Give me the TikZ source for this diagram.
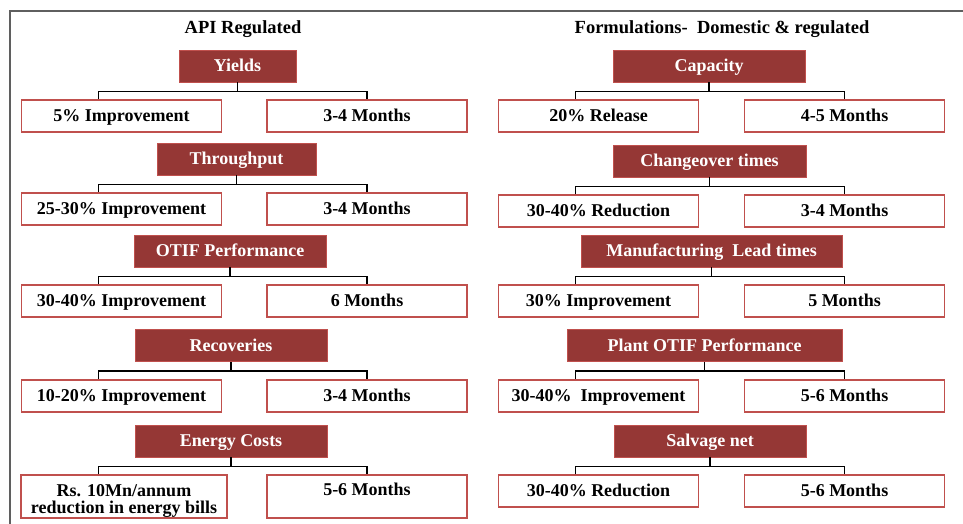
\documentclass[tikz,border=0pt]{standalone}
\usepackage{fontspec}
\setmainfont{Liberation Serif}
\usetikzlibrary{positioning}
\definecolor{headred}{RGB}{149,55,53}
\definecolor{edgered}{RGB}{192,80,77}
\definecolor{framegray}{RGB}{95,95,95}

\begin{document}
\begin{tikzpicture}[x=1pt,y=-1pt,
  goalbox/.style={rectangle,fill=headred,draw=edgered,line width=0.8pt,text=white,font=\fontsize{18}{21}\selectfont\bfseries,minimum height=32pt,inner sep=0pt,text height=12pt,text depth=1pt},
  resultbox/.style={rectangle,fill=white,draw=edgered,line width=1.6pt,font=\fontsize{18}{17}\selectfont\bfseries,minimum width=200pt,minimum height=32pt,inner sep=0pt,align=center,text height=12pt,text depth=1pt},
  colhead/.style={font=\fontsize{18.5}{22}\selectfont\bfseries,inner sep=0pt,text height=12.5pt,text depth=1pt},
  bracket/.style={draw=black,line width=1.3pt}]
  \useasboundingbox (0,0) rectangle (963,524);
  \draw[framegray,line width=1.5pt] (963,11) -- (10,11) -- (10,524);
  % column headings
  \node[colhead] (apititle) at (243,28) {API Regulated};
  \node[colhead] (formtitle) at (722,28) {Formulations-\enspace Domestic \& regulated};
  % API regulated
  \node[goalbox,minimum width=117pt] (yields) at (237.5,66) {Yields};
  \node[resultbox] (yieldsgain) at (121.5,116) {5\% Improvement};
  \node[resultbox] (yieldstime) at (367,116) {3-4 Months};
  \node[goalbox,minimum width=159pt] (thru) at (236.5,159) {Throughput};
  \node[resultbox] (thrugain) at (121.5,209) {25-30\% Improvement};
  \node[resultbox] (thrutime) at (367,209) {3-4 Months};
  \node[goalbox,minimum width=192pt] (otif) at (230,251) {OTIF Performance};
  \node[resultbox] (otifgain) at (121.5,301) {30-40\% Improvement};
  \node[resultbox] (otiftime) at (367,301) {6 Months};
  \node[goalbox,minimum width=192pt] (recov) at (231,345.5) {Recoveries};
  \node[resultbox] (recovgain) at (121.5,396) {10-20\% Improvement};
  \node[resultbox] (recovtime) at (367,396) {3-4 Months};
  \node[goalbox,minimum width=192pt] (energy) at (231,441) {Energy Costs};
  \node[resultbox,minimum width=206pt,minimum height=43pt,text height=,text depth=] (energygain) at (124,496.5) {\rule{0pt}{20pt}Rs. 10Mn/annum\\reduction in energy bills};
  \node[resultbox,minimum height=43pt,text height=12pt,text depth=14pt] (energytime) at (367,496.5) {5-6 Months};
  % formulations
  \node[goalbox,minimum width=192pt] (capacity) at (709,66) {Capacity};
  \node[resultbox] (capgain) at (598.5,116) {20\% Release};
  \node[resultbox] (captime) at (844.5,116) {4-5 Months};
  \node[goalbox,minimum width=193pt] (change) at (709.5,161) {Changeover times};
  \node[resultbox] (changegain) at (598.5,211) {30-40\% Reduction};
  \node[resultbox] (changetime) at (844.5,211) {3-4 Months};
  \node[goalbox,minimum width=261pt] (mlt) at (711.5,251) {Manufacturing\enspace Lead times};
  \node[resultbox] (mltgain) at (598.5,301) {30\% Improvement};
  \node[resultbox] (mlttime) at (844.5,301) {5 Months};
  \node[goalbox,minimum width=275pt] (potif) at (704.5,345.5) {Plant OTIF Performance};
  \node[resultbox] (potifgain) at (598.5,396) {30-40\%\enspace Improvement};
  \node[resultbox] (potiftime) at (844.5,396) {5-6 Months};
  \node[goalbox,minimum width=192pt] (salvage) at (710,441) {Salvage net};
  \node[resultbox] (salvgain) at (598.5,491) {30-40\% Reduction};
  \node[resultbox] (salvtime) at (844.5,491) {5-6 Months};
  % brackets
  \draw[bracket] (yields.south) -- ([yshift=-9pt]yields.south) ([xshift=78pt]yieldsgain.north west) |- ([yshift=-9pt]yields.south) -| (yieldstime.north);
  \draw[bracket] (thru.south) -- ([yshift=-9pt]thru.south) ([xshift=78pt]thrugain.north west) |- ([yshift=-9pt]thru.south) -| (thrutime.north);
  \draw[bracket] (otif.south) -- ([yshift=-9pt]otif.south) ([xshift=78pt]otifgain.north west) |- ([yshift=-9pt]otif.south) -| (otiftime.north);
  \draw[bracket] (recov.south) -- ([yshift=-9pt]recov.south) ([xshift=78pt]recovgain.north west) |- ([yshift=-9pt]recov.south) -| (recovtime.north);
  \draw[bracket] (energy.south) -- ([yshift=-9pt]energy.south) ([xshift=78pt]energygain.north west) |- ([yshift=-9pt]energy.south) -| (energytime.north);
  \draw[bracket] (capacity.south) -- ([yshift=-9pt]capacity.south) ([xshift=78pt]capgain.north west) |- ([yshift=-9pt]capacity.south) -| (captime.north);
  \draw[bracket] (change.south) -- ([yshift=-9pt]change.south) ([xshift=78pt]changegain.north west) |- ([yshift=-9pt]change.south) -| (changetime.north);
  \draw[bracket] (mlt.south) -- ([yshift=-9pt]mlt.south) ([xshift=78pt]mltgain.north west) |- ([yshift=-9pt]mlt.south) -| (mlttime.north);
  \draw[bracket] (potif.south) -- ([yshift=-9pt]potif.south) ([xshift=78pt]potifgain.north west) |- ([yshift=-9pt]potif.south) -| (potiftime.north);
  \draw[bracket] (salvage.south) -- ([yshift=-9pt]salvage.south) ([xshift=78pt]salvgain.north west) |- ([yshift=-9pt]salvage.south) -| (salvtime.north);
\end{tikzpicture}
\end{document}
